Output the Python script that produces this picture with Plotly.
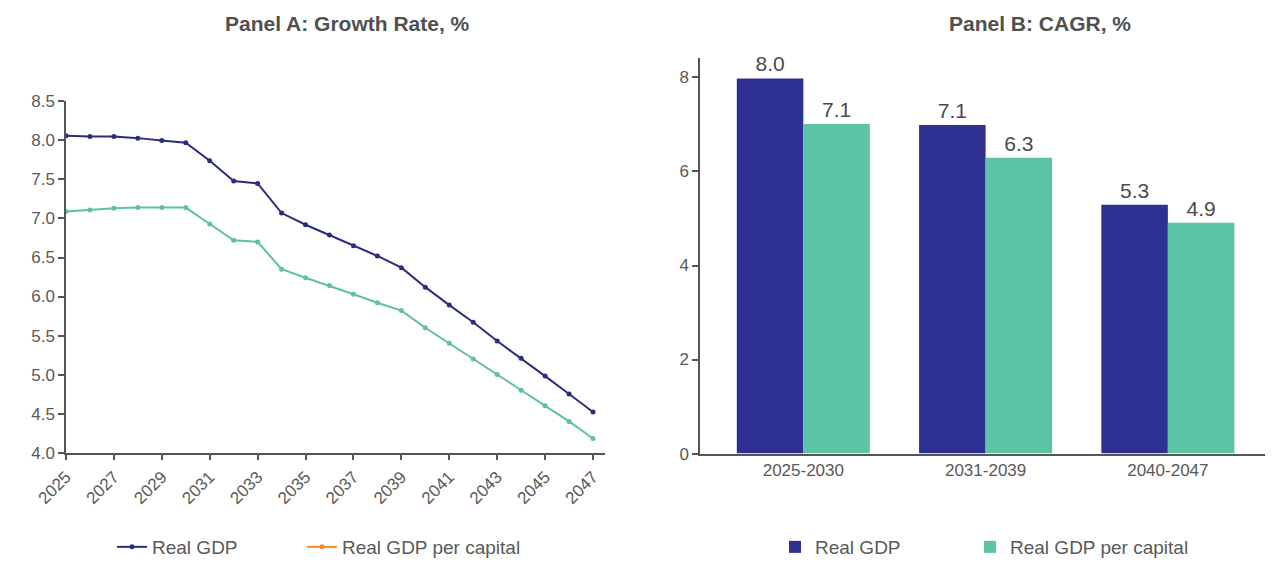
import plotly.graph_objects as go

# ---------------- data ----------------
years = list(range(2025, 2048))
real_gdp = [8.06, 8.05, 8.05, 8.03, 8.00, 7.97, 7.74, 7.48, 7.45, 7.07, 6.92, 6.79,
            6.65, 6.52, 6.37, 6.12, 5.89, 5.67, 5.43, 5.21, 4.98, 4.75, 4.52]
real_gdp_pc = [7.09, 7.11, 7.13, 7.14, 7.14, 7.14, 6.93, 6.72, 6.70, 6.35, 6.24, 6.14,
               6.03, 5.92, 5.82, 5.60, 5.40, 5.20, 5.00, 4.80, 4.60, 4.40, 4.18]

periods = ["2025-2030", "2031-2039", "2040-2047"]
cagr_gdp = [7.98, 6.99, 5.29]
cagr_gdp_pc = [7.01, 6.29, 4.91]
cagr_gdp_labels = ["8.0", "7.1", "5.3"]
cagr_gdp_pc_labels = ["7.1", "6.3", "4.9"]

year_ticks = list(range(2025, 2048, 2))
growth_ticks = [4.0, 4.5, 5.0, 5.5, 6.0, 6.5, 7.0, 7.5, 8.0, 8.5]
cagr_ticks = [0, 2, 4, 6, 8]

# ---------------- style ----------------
NAVY_LINE = "#2b2d7f"
GREEN_LINE = "#5cc2a0"
NAVY_BAR = "#2e3192"
GREEN_BAR = "#5cc3a4"
ORANGE = "#f5882a"
TXT = "#595959"
FONT = "Liberation Sans, Arial, sans-serif"

W, H = 1280, 566
def px_x(x):
    return x / W
def px_y(y):
    return (H - y) / H

fig = go.Figure()

# Panel A lines
fig.add_trace(go.Scatter(x=years, y=real_gdp, mode="lines+markers", name="Real GDP",
                         line=dict(color=NAVY_LINE, width=2), marker=dict(size=5, color=NAVY_LINE),
                         xaxis="x", yaxis="y", legend="legend"))
fig.add_trace(go.Scatter(x=years, y=real_gdp_pc, mode="lines+markers", name="Real GDP per capital",
                         line=dict(color=GREEN_LINE, width=2), marker=dict(size=5, color=GREEN_LINE),
                         xaxis="x", yaxis="y", showlegend=False))
# legend entry as shown in the reference (orange key)
fig.add_trace(go.Scatter(x=[None], y=[None], mode="lines+markers", name="Real GDP per capital",
                         line=dict(color=ORANGE, width=2), marker=dict(size=5, color=ORANGE),
                         xaxis="x", yaxis="y", legend="legend2"))

# Panel B bars
fig.add_trace(go.Bar(x=periods, y=cagr_gdp, name="Real GDP", marker=dict(color=NAVY_BAR, line=dict(width=0)),
                     text=cagr_gdp_labels, textposition="outside", cliponaxis=False,
                     textfont=dict(size=21, color="#4a4a4a", family=FONT),
                     xaxis="x2", yaxis="y2", legend="legend3"))
fig.add_trace(go.Bar(x=periods, y=cagr_gdp_pc, name="Real GDP per capital",
                     marker=dict(color=GREEN_BAR, line=dict(width=0)),
                     text=cagr_gdp_pc_labels, textposition="outside", cliponaxis=False,
                     textfont=dict(size=21, color="#4a4a4a", family=FONT),
                     xaxis="x2", yaxis="y2", legend="legend4"))

axis_common = dict(showline=True, linecolor="#555555", linewidth=1.5, ticks="outside",
                   ticklen=6, tickcolor="#555555", tickwidth=1.5, showgrid=False, zeroline=False,
                   tickfont=dict(size=17, color=TXT, family=FONT), automargin=False)

def leg(xpx):
    return dict(orientation="h", x=px_x(xpx), y=px_y(550), xanchor="left", yanchor="middle",
                itemwidth=30, font=dict(size=19, color=TXT, family=FONT), bgcolor="rgba(0,0,0,0)")

fig.update_layout(
    width=W, height=H,
    template="none",
    paper_bgcolor="white", plot_bgcolor="white",
    margin=dict(l=0, r=0, t=0, b=0),
    font=dict(family=FONT, color=TXT),
    barmode="group", bargap=0.27, bargroupgap=0,
    xaxis=dict(domain=[px_x(66), px_x(605)], range=[2025, 2047.5], tickvals=year_ticks,
               tickangle=-45, anchor="y", **axis_common),
    yaxis=dict(domain=[px_y(455), px_y(102)], range=[4.0, 8.5], tickvals=growth_ticks,
               tickformat=".1f", anchor="x", **axis_common),
    xaxis2=dict(domain=[px_x(700), px_x(1265)], range=[-0.567, 2.533], anchor="y2",
                **{**axis_common, "ticks": ""}),
    yaxis2=dict(domain=[px_y(456), px_y(58)], range=[0, 8.42], tickvals=cagr_ticks,
                anchor="x2", **axis_common),
    legend=leg(112),
    legend2=leg(302),
    legend3=leg(775),
    legend4=leg(970),
    annotations=[
        dict(text="<b>Panel A: Growth Rate, %</b>", x=px_x(347), y=px_y(24), xref="paper", yref="paper",
             xanchor="center", yanchor="middle",
             showarrow=False, font=dict(size=21, color="#505050", family=FONT)),
        dict(text="<b>Panel B: CAGR, %</b>", x=px_x(1040), y=px_y(24), xref="paper", yref="paper",
             xanchor="center", yanchor="middle",
             showarrow=False, font=dict(size=21, color="#505050", family=FONT)),
    ],
)

fig.write_html("out.html", config={"displayModeBar": False},
               post_script="document.body.style.margin='0';document.body.style.overflow='hidden';")
